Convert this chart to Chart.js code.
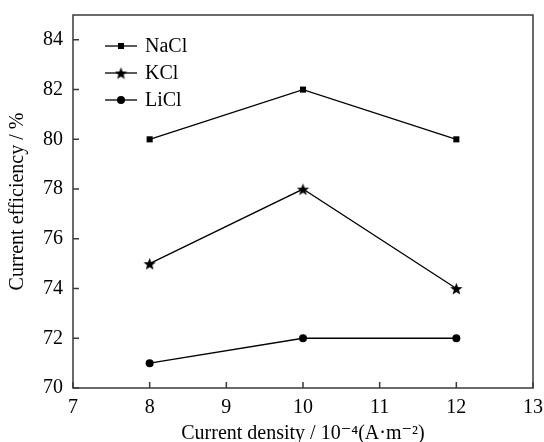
<!DOCTYPE html>
<html>
<head>
<meta charset="utf-8">
<script src="https://cdn.jsdelivr.net/npm/chart.js@4/dist/chart.umd.min.js"></script>
<style>
  html, body { margin: 0; padding: 0; background: #fff; }
  #wrap { width: 544px; height: 442px; }
</style>
</head>
<body>
<div id="wrap"><canvas id="c" width="544" height="442"></canvas></div>
<script>
/* ===== DATA ===== */
const DENSITY = [8, 10, 12];
const NACL = [80, 82, 80];
const KCL  = [75, 78, 74];
const LICL = [71, 72, 72];
const Y_TICKS = [70, 72, 74, 76, 78, 80, 82, 84];
const X_TICKS = [7, 8, 9, 10, 11, 12, 13];

const FONT = "'Liberation Serif', 'DejaVu Serif', serif";
const INK = '#000';
const AXIS = '#3a3a3a';

// filled five-point star as a point image
function starImage(size) {
  const c = document.createElement('canvas');
  c.width = c.height = size;
  const g = c.getContext('2d');
  const cx = size / 2, cy = size / 2 + size * 0.05, R = size / 2, r = R * 0.42;
  g.beginPath();
  for (let i = 0; i < 10; i++) {
    const a = -Math.PI / 2 + i * Math.PI / 5;
    const rr = i % 2 ? r : R;
    g.lineTo(cx + rr * Math.cos(a), cy + rr * Math.sin(a));
  }
  g.closePath();
  g.fillStyle = INK;
  g.fill();
  return c;
}
const STAR = starImage(13);

const pts = ys => DENSITY.map((x, i) => ({x, y: ys[i]}));
const series = [
  {label: 'NaCl', data: pts(NACL), pointStyle: 'rect', pointRadius: 4.3},
  {label: 'KCl',  data: pts(KCL),  pointStyle: STAR,   pointRadius: 6},
  {label: 'LiCl', data: pts(LICL), pointStyle: 'circle', pointRadius: 4},
];

// frame, inward ticks, in-plot legend
const decor = {
  id: 'decor',
  afterDraw(chart) {
    const {ctx, chartArea: a, scales: {x, y}} = chart;
    ctx.save();
    ctx.strokeStyle = AXIS;
    ctx.lineWidth = 1.5;
    ctx.strokeRect(a.left, a.top, a.right - a.left, a.bottom - a.top);
    ctx.beginPath();
    X_TICKS.forEach(v => {
      const px = x.getPixelForValue(v);
      ctx.moveTo(px, a.bottom); ctx.lineTo(px, a.bottom - 6);
    });
    Y_TICKS.forEach(v => {
      const py = y.getPixelForValue(v);
      ctx.moveTo(a.left, py); ctx.lineTo(a.left + 6, py);
    });
    ctx.stroke();

    // legend
    ctx.font = '20px ' + FONT;
    ctx.textBaseline = 'middle';
    series.forEach((s, i) => {
      const ly = a.top + 31 + i * 27;
      const lx = a.left + 32;
      ctx.strokeStyle = INK;
      ctx.lineWidth = 1.3;
      ctx.beginPath();
      ctx.moveTo(lx, ly); ctx.lineTo(lx + 32, ly);
      ctx.stroke();
      ctx.fillStyle = INK;
      Chart.helpers.drawPoint(ctx, {pointStyle: s.pointStyle, radius: s.pointRadius, rotation: 0, borderWidth: 0}, lx + 16, ly);
      ctx.fillStyle = INK;
      ctx.fillText(s.label, lx + 40, ly + 1);
    });
    ctx.restore();
  }
};

const noEdgePad = s => { s.paddingTop = 0; s.paddingBottom = 0; s.paddingLeft = 0; s.paddingRight = 0; };

new Chart(document.getElementById('c'), {
  type: 'line',
  data: {
    datasets: series.map(s => ({
      label: s.label,
      data: s.data,
      borderColor: INK,
      backgroundColor: INK,
      borderWidth: 1.3,
      pointStyle: s.pointStyle,
      pointRadius: s.pointRadius,
      pointBorderWidth: 0,
      pointBackgroundColor: INK,
      tension: 0
    }))
  },
  options: {
    responsive: false,
    animation: false,
    layout: {padding: {top: 15, right: 11, left: 0, bottom: -4}},
    plugins: {legend: {display: false}, tooltip: {enabled: false}},
    scales: {
      x: {
        type: 'linear', min: 7, max: 13,
        afterBuildTicks: s => { s.ticks = X_TICKS.map(v => ({value: v})); },
        afterFit: s => { noEdgePad(s); s.height -= 6; },
        grid: {display: false, drawTicks: false},
        border: {display: false},
        ticks: {color: INK, font: {family: FONT, size: 20}, padding: 8},
        title: {display: true, text: 'Current density / 10\u207B\u2074(A\u00B7m\u207B\u00B2)', color: INK,
                font: {family: FONT, size: 20}, padding: {top: 0, bottom: 0}}
      },
      y: {
        type: 'linear', min: 70, max: 85,
        afterBuildTicks: s => { s.ticks = Y_TICKS.map(v => ({value: v})); },
        afterFit: noEdgePad,
        grid: {display: false, drawTicks: false},
        border: {display: false},
        ticks: {color: INK, font: {family: FONT, size: 20}, padding: 10},
        title: {display: true, text: 'Current efficiency / %', color: INK,
                font: {family: FONT, size: 20}, padding: {top: 6, bottom: 3}}
      }
    }
  },
  plugins: [decor]
});
</script>
</body>
</html>
